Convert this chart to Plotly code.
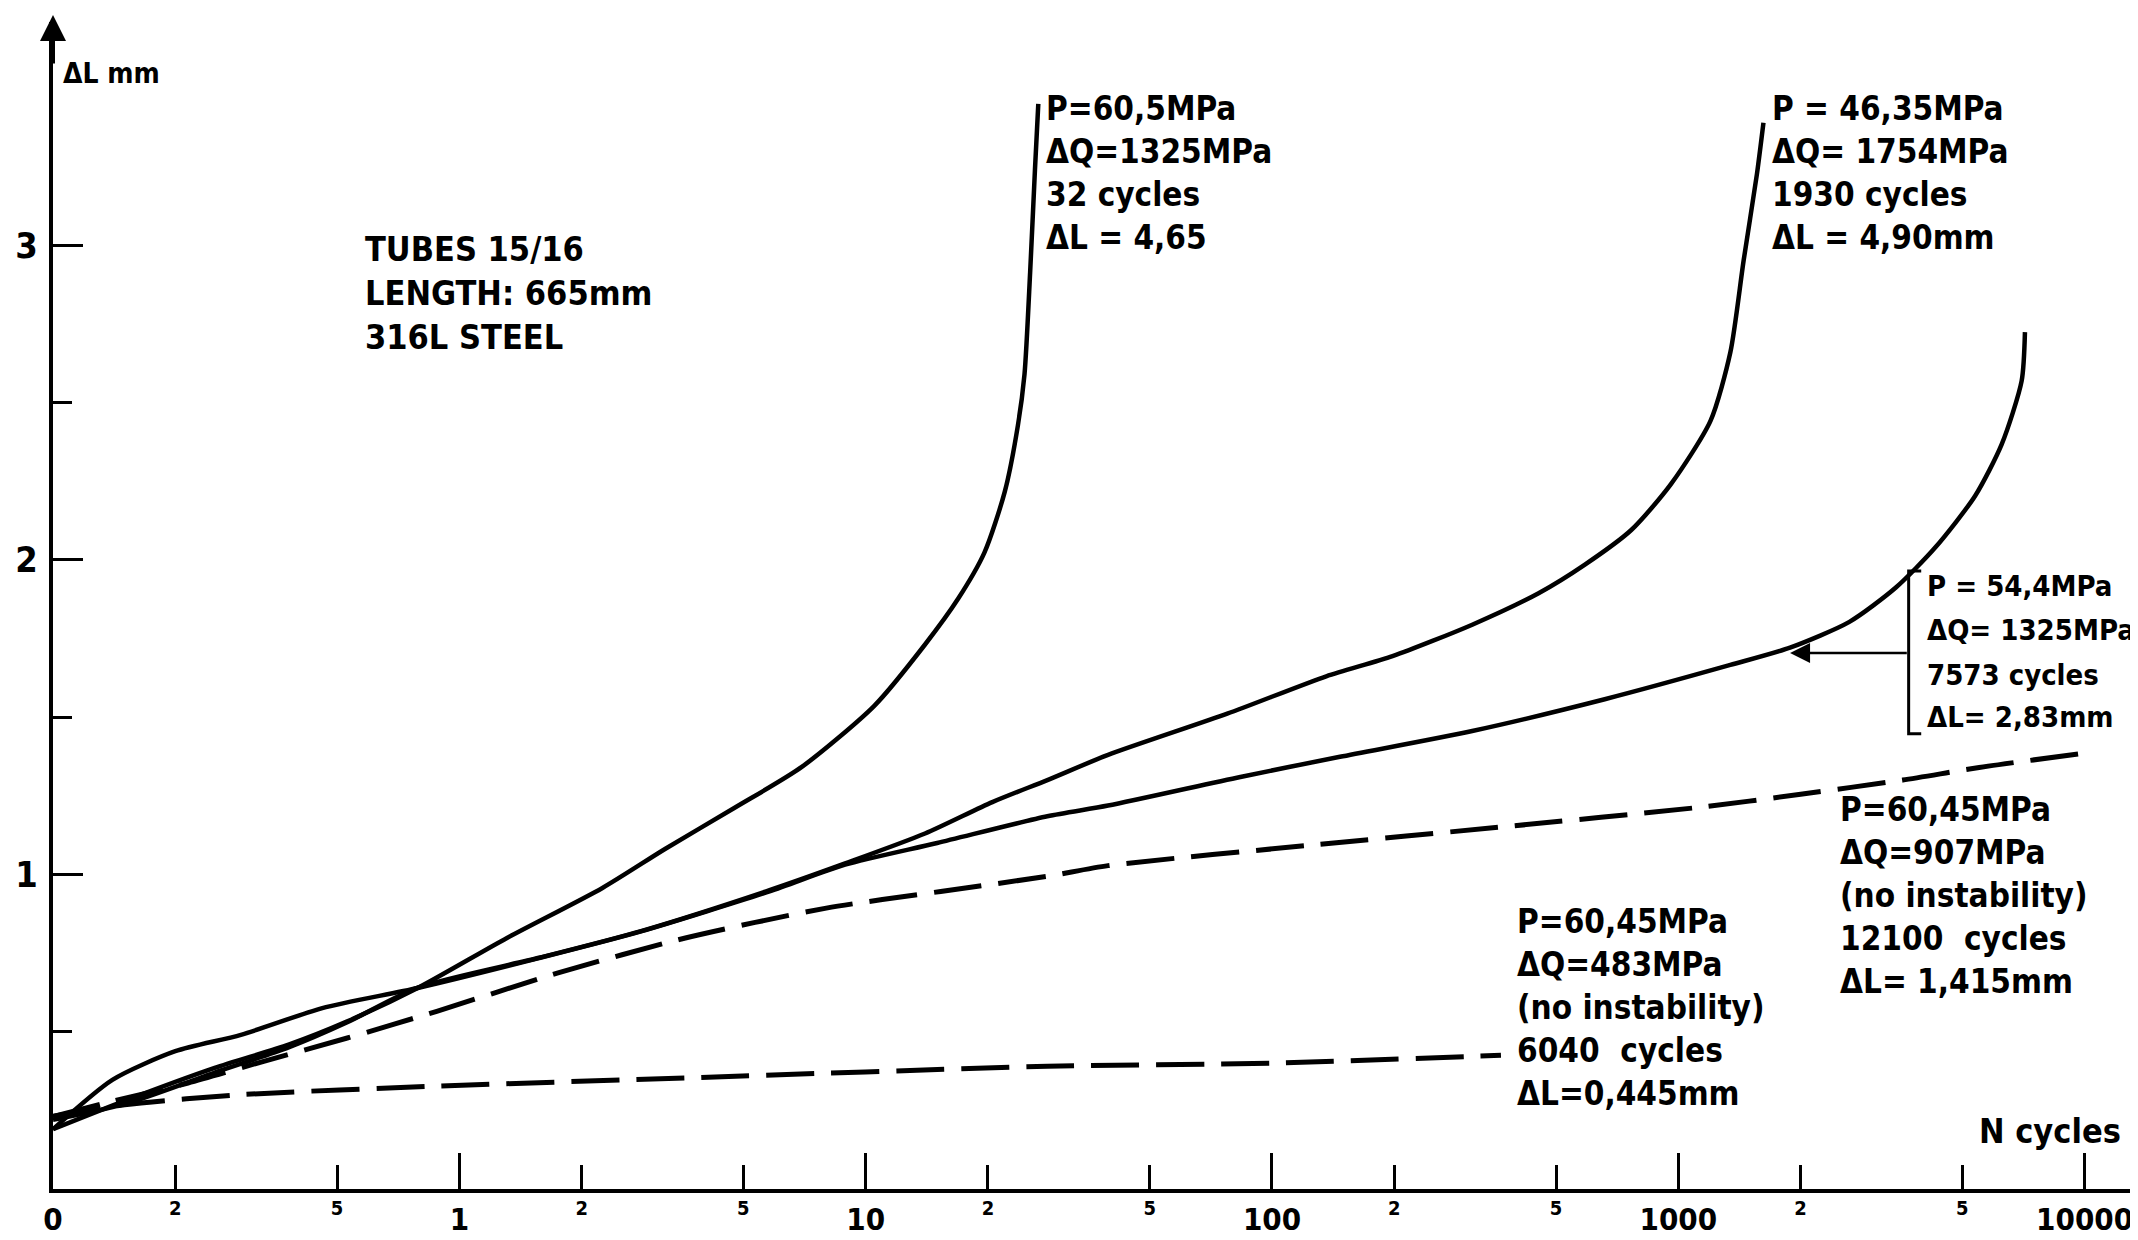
import plotly.graph_objects as go

# ---------------- data ----------------
# P=60,5MPa  dQ=1325MPa  32 cycles (solid)
n_a = [0.1, 0.15, 0.25, 0.38, 0.53, 0.79, 1.31, 2.25, 3.2, 4.76, 6.95, 10.5, 14, 16.9,
       19.6, 22, 23.7, 24.6, 25.4, 26.1, 26.6]
dl_a = [0.19, 0.28, 0.385, 0.459, 0.533, 0.639, 0.798, 0.957, 1.08, 1.212, 1.341, 1.536,
        1.731, 1.877, 2.023, 2.217, 2.428, 2.59, 2.915, 3.24, 3.45]

# P=46,35MPa  dQ=1754MPa  1930 cycles (solid)
n_b = [0.1, 0.15, 0.25, 0.38, 0.53, 0.79, 1.57, 2.8, 5.8, 8.9, 14, 20.5, 28, 39.5, 77.6,
       136, 198, 311, 453, 589, 766, 959, 1200, 1343, 1448, 1561, 1620]
dl_b = [0.22, 0.27, 0.37, 0.45, 0.53, 0.64, 0.735, 0.82, 0.95, 1.035, 1.13, 1.23, 1.30,
        1.38, 1.511, 1.63, 1.694, 1.794, 1.894, 1.985, 2.095, 2.241, 2.442, 2.66, 2.952,
        3.226, 3.39]

# P=54,4MPa  dQ=1325MPa  7573 cycles (solid)
n_c = [0.1, 0.14, 0.2, 0.29, 0.46, 0.79, 1.57, 2.8, 5.8, 8.9, 15, 28, 39.5, 83.6, 147,
       311, 659, 1343, 1883, 2637, 3431, 4293, 5379, 6252, 6998, 7130]
dl_c = [0.19, 0.347, 0.438, 0.49, 0.575, 0.639, 0.734, 0.819, 0.946, 1.031, 1.1, 1.185,
        1.219, 1.31, 1.374, 1.456, 1.557, 1.666, 1.721, 1.803, 1.912, 2.04, 2.204, 2.368,
        2.569, 2.724]

# P=60,45MPa  dQ=907MPa  12100 cycles (dashed)
n_d = [0.1, 0.14, 0.215, 0.33, 0.53, 0.88, 1.75, 3.6, 8, 15.3, 28, 39.5, 122, 375, 1156,
       2000, 3566, 5500, 9638]
dl_d = [0.23, 0.279, 0.337, 0.406, 0.48, 0.565, 0.687, 0.798, 0.893, 0.946, 0.994, 1.028,
        1.092, 1.152, 1.215, 1.255, 1.30, 1.34, 1.383]

# P=60,45MPa  dQ=483MPa  6040 cycles (dashed)
n_e = [0.1, 0.15, 0.29, 0.84, 3.6, 28, 100, 366]
dl_e = [0.231, 0.268, 0.30, 0.326, 0.353, 0.39, 0.40, 0.425]

# axis ticks
x_major_vals = [0.1, 1, 10, 100, 1000, 10000]
x_major_text = ["0", "1", "10", "100", "1000", "10000"]
x_minor_vals = [0.2, 0.5, 2, 5, 20, 50, 200, 500, 2000, 5000]
x_minor_text = ["2", "5", "2", "5", "2", "5", "2", "5", "2", "5"]
y_major_vals = [1, 2, 3]
y_major_text = ["1", "2", "3"]
y_minor_vals = [0.5, 1.5, 2.5]

# labels
label_c_lines = ["P = 54,4MPa", "ΔQ= 1325MPa", "7573 cycles", "ΔL= 2,83mm"]

# arrow target on the 7573-cycle curve
arrow_n = 1900
arrow_dl = 1.704

FONT = "DejaVu Sans Condensed, Liberation Sans Narrow, sans-serif"

fig = go.Figure()
solid = dict(color="black", width=4.5, shape="spline", smoothing=0.7)
dashed = dict(color="black", width=5, dash="48px,17px", shape="spline", smoothing=0.7)

for n, dl, ln in [(n_a, dl_a, solid), (n_b, dl_b, solid), (n_c, dl_c, solid),
                  (n_d, dl_d, dashed), (n_e, dl_e, dashed)]:
    fig.add_trace(go.Scatter(x=n, y=dl, mode="lines", line=ln, hoverinfo="skip",
                             showlegend=False))

# invisible trace so the secondary (minor-label) x axis is drawn
fig.add_trace(go.Scatter(x=[], y=[], xaxis="x2", showlegend=False, hoverinfo="skip"))

x_range = [-1, 4.151]
y_range = [0, 3.71]

fig.update_layout(
    width=2138, height=1240,
    margin=dict(l=45, r=0, t=14, b=59),
    paper_bgcolor="white", plot_bgcolor="white",
    font=dict(family=FONT, color="black"),
    xaxis=dict(type="log", range=x_range, showgrid=False, zeroline=False,
               showline=True, linecolor="black", linewidth=4,
               ticks="inside", ticklen=36, tickwidth=3, tickcolor="black",
               tickmode="array", tickvals=x_major_vals, ticktext=x_major_text,
               tickfont=dict(family=FONT, size=31, weight="bold"),
               ticklabelstandoff=0),
    xaxis2=dict(type="log", range=x_range, overlaying="x", anchor="y", side="bottom",
                showgrid=False, zeroline=False, showline=False,
                ticks="inside", ticklen=24, tickwidth=3, tickcolor="black",
                tickmode="array", tickvals=x_minor_vals, ticktext=x_minor_text,
                tickfont=dict(family=FONT, size=20, weight="bold"),
                ticklabelstandoff=5),
    yaxis=dict(range=y_range, showgrid=False, zeroline=False,
               showline=True, linecolor="black", linewidth=4,
               ticks="inside", ticklen=30, tickwidth=3, tickcolor="black",
               tickmode="array", tickvals=y_major_vals, ticktext=y_major_text,
               tickfont=dict(family=FONT, size=36, weight="bold"),
               ticklabelstandoff=4,
               minor=dict(ticks="inside", ticklen=19, tickwidth=3, tickcolor="black",
                          tickmode="array", tickvals=y_minor_vals)),
)

def note(text, x, y, size=33, xanchor="left", yanchor="top"):
    fig.add_annotation(text=text, xref="paper", yref="paper", x=x, y=y,
                       xanchor=xanchor, yanchor=yanchor, align="left", showarrow=False,
                       font=dict(family=FONT, size=size, color="black", weight="bold"))

note("TUBES 15/16<br>LENGTH: 665mm<br>316L STEEL", 0.1479, 0.8245, size=34)
note("P=60,5MPa<br>ΔQ=1325MPa<br>32 cycles<br>ΔL = 4,65", 0.4734, 0.9443)
note("P = 46,35MPa<br>ΔQ= 1754MPa<br>1930 cycles<br>ΔL = 4,90mm", 0.8203, 0.9443)
for line, yp in zip(label_c_lines, [0.5167, 0.4790, 0.4404, 0.4045]):
    note(line, 0.8944, yp, size=29, yanchor="middle")
note("P=60,45MPa<br>ΔQ=907MPa<br>(no instability)<br>12100  cycles<br>ΔL= 1,415mm",
     0.8528, 0.3437)
note("P=60,45MPa<br>ΔQ=483MPa<br>(no instability)<br>6040  cycles<br>ΔL=0,445mm",
     0.6985, 0.2477)
note("N cycles", 0.9192, 0.0500, size=34, yanchor="middle")
note("ΔL mm", 0.0040, 0.9560, size=28, yanchor="middle")

# arrow from bracket to the 7573-cycle curve
fig.add_annotation(x=3.275, y=arrow_dl, ax=3.566, ay=arrow_dl, xref="x", yref="y",
                   axref="x", ayref="y", text="", showarrow=True, arrowhead=2,
                   arrowsize=1.6, arrowwidth=2.5, arrowcolor="black")

# bracket around the 7573-cycle label
bx, bt, bb, bw = 0.8866, 0.5296, 0.3900, 0.006
fig.add_shape(type="path", xref="paper", yref="paper",
              path=f"M {bx+bw},{bt} L {bx},{bt} L {bx},{bb} L {bx+bw},{bb}",
              line=dict(color="black", width=3))

# arrowhead at the top of the y axis
fig.add_annotation(x=0, y=1.006, xref="paper", yref="paper", ax=0, ay=50, text="",
                   showarrow=True, arrowhead=2, arrowsize=1.3, arrowwidth=4,
                   arrowcolor="black")

fig.write_html("out.html")
